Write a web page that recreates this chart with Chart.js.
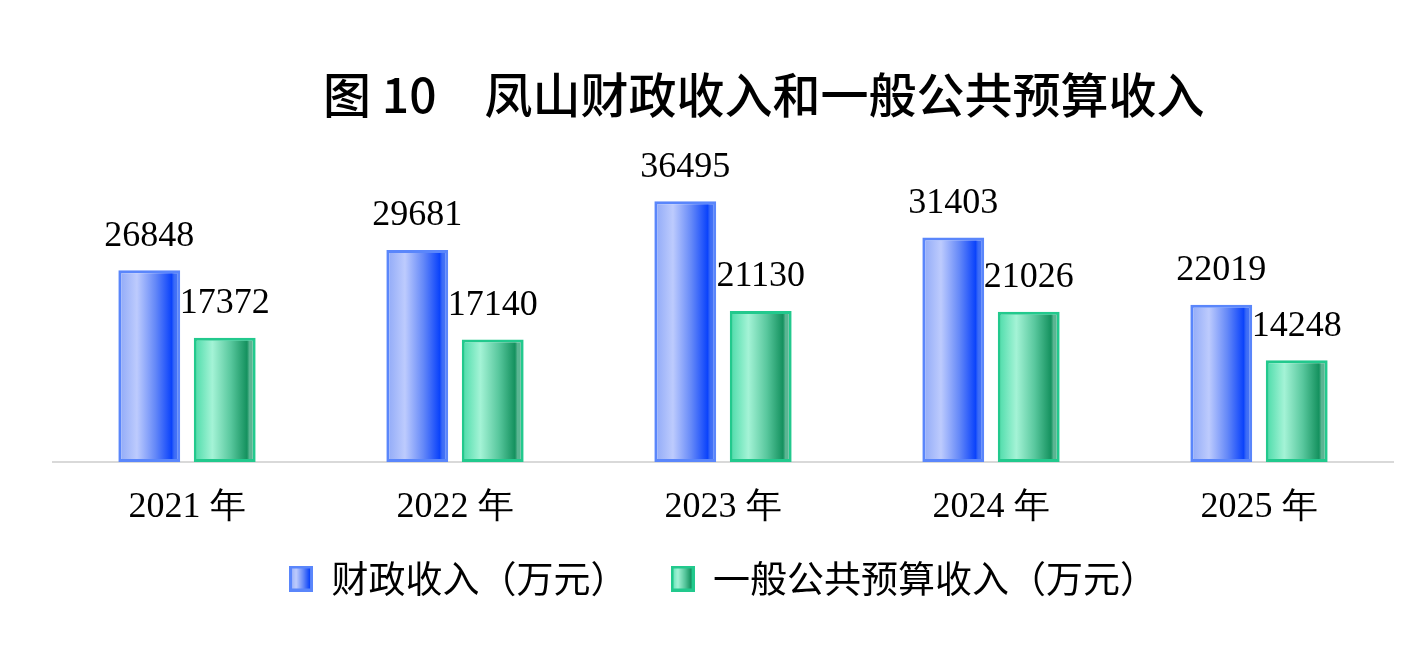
<!DOCTYPE html>
<html>
<head>
<meta charset="utf-8">
<script src="https://cdn.jsdelivr.net/npm/chart.js@4.4.1/dist/chart.umd.min.js"></script>
<style>
    html, body { margin: 0; padding: 0; background: #ffffff; }
    #wrap { width: 1428px; height: 654px; }
</style>
</head>
<body>
<div id="wrap"><canvas id="chart"></canvas></div>
<script>
const years = ['2021 年', '2022 年', '2023 年', '2024 年', '2025 年'];
const fiscal_income = [26848, 29681, 36495, 31403, 22019];
const budget_income = [17372, 17140, 21130, 21026, 14248];
const series_names = ['财政收入（万元）', '一般公共预算收入（万元）'];
const chart_title = '\u3000\u2002\u2009图 10\u3000凤山财政收入和一般公共预算收入';

const cat_pct = 0.563;
const bar_pct = 0.82;

const blue_stops = [[0, '#8ea8f7'], [0.3, '#bdcbfd'], [0.6, '#6488f8'], [0.86, '#0b43fb'], [0.9, '#3a6af6'], [1, '#4f7cf6']];
const green_stops = [[0, '#49dba8'], [0.3, '#a4f3d6'], [0.6, '#58c79d'], [0.86, '#14915e'], [0.9, '#5ab592'], [1, '#5ab592']];

function make_gradient(g, x0, x1, stops) {
    const grad = g.createLinearGradient(x0, 0, x1, 0);
    stops.forEach((s) => grad.addColorStop(s[0], s[1]));
    return grad;
}

// gradient per bar, placed from the category scale
function bar_fill(stops) {
    return function (context) {
        const chart = context.chart;
        const area = chart.chartArea;
        const x_scale = chart.scales.x;
        if (!area || !x_scale) return stops[0][1];
        const cat_w = area.width / years.length;
        const slot = cat_w * cat_pct / 2;
        const w = slot * bar_pct;
        const cx = x_scale.getPixelForValue(context.dataIndex) + (context.datasetIndex - 0.5) * slot;
        return make_gradient(chart.ctx, cx - w / 2, cx + w / 2, stops);
    };
}

function legend_box(stops, border) {
    const c = document.createElement('canvas');
    c.width = 24;
    c.height = 26;
    const g = c.getContext('2d');
    g.fillStyle = make_gradient(g, 0, 24, stops);
    g.fillRect(0, 0, 24, 26);
    g.strokeStyle = border;
    g.lineWidth = 3;
    g.strokeRect(1.5, 1.5, 21, 23);
    return c;
}
const legend_icons = [legend_box(blue_stops, '#5a86fb'), legend_box(green_stops, '#22c98d')];

const value_labels = {
    id: 'value_labels',
    afterDatasetsDraw(chart) {
        const g = chart.ctx;
        g.save();
        g.font = "36px 'Liberation Serif', 'Times New Roman', serif";
        g.fillStyle = '#000000';
        g.textAlign = 'center';
        g.textBaseline = 'middle';
        chart.data.datasets.forEach((ds, i) => {
            chart.getDatasetMeta(i).data.forEach((bar, j) => {
                g.fillText(String(ds.data[j]), bar.x, bar.y - 34);
            });
        });
        g.restore();
    }
};

// the x axis box is kept short, let its labels draw below it
const axis_room = {
    id: 'axis_room',
    afterLayout(chart) {
        chart.scales.x.bottom = chart.height;
    }
};

const ctx = document.getElementById('chart');
let mainChart = new Chart(ctx, {
    type: 'bar',
    data: {
        labels: years,
        datasets: [
            {
                label: series_names[0],
                data: fiscal_income,
                backgroundColor: bar_fill(blue_stops),
                borderColor: '#5a86fb',
                borderWidth: 3,
                borderSkipped: false,
            },
            {
                label: series_names[1],
                data: budget_income,
                backgroundColor: bar_fill(green_stops),
                borderColor: '#22c98d',
                borderWidth: 3,
                borderSkipped: false,
            },
        ],
    },
    options: {
        responsive: true,
        maintainAspectRatio: false,
        animation: false,
        devicePixelRatio: 1,
        categoryPercentage: cat_pct,
        barPercentage: bar_pct,
        layout: {
            padding: {top: 66, left: 53, right: 35, bottom: 47},
        },
        scales: {
            x: {
                grid: {display: false, drawTicks: false},
                border: {display: true, color: '#d9d9d9', width: 2},
                ticks: {
                    color: '#000000',
                    padding: 24,
                    font: {family: "'Liberation Serif', 'Times New Roman', serif", size: 36},
                },
                afterFit(scale) {
                    scale.height = 55;
                },
            },
            y: {
                display: false,
                min: 0,
                max: 44000,
            },
        },
        plugins: {
            title: {
                display: true,
                text: chart_title,
                color: '#000000',
                font: {family: "'Noto Sans CJK SC', 'Noto Sans', sans-serif", size: 48, weight: '500'},
                padding: {top: 0, bottom: 24},
            },
            legend: {
                position: 'bottom',
                labels: {
                    usePointStyle: true,
                    pointStyleWidth: 24,
                    boxHeight: 26,
                    padding: 43,
                    color: '#000000',
                    font: {family: "'Noto Sans CJK SC', 'Noto Sans', sans-serif", size: 37},
                    generateLabels(chart) {
                        const items = Chart.defaults.plugins.legend.labels.generateLabels(chart);
                        items.forEach((item, i) => {
                            item.pointStyle = legend_icons[i];
                            item.lineWidth = 0;
                        });
                        return items;
                    },
                },
            },
            tooltip: {enabled: false},
        },
    },
    plugins: [value_labels, axis_room],
});
</script>
</body>
</html>
